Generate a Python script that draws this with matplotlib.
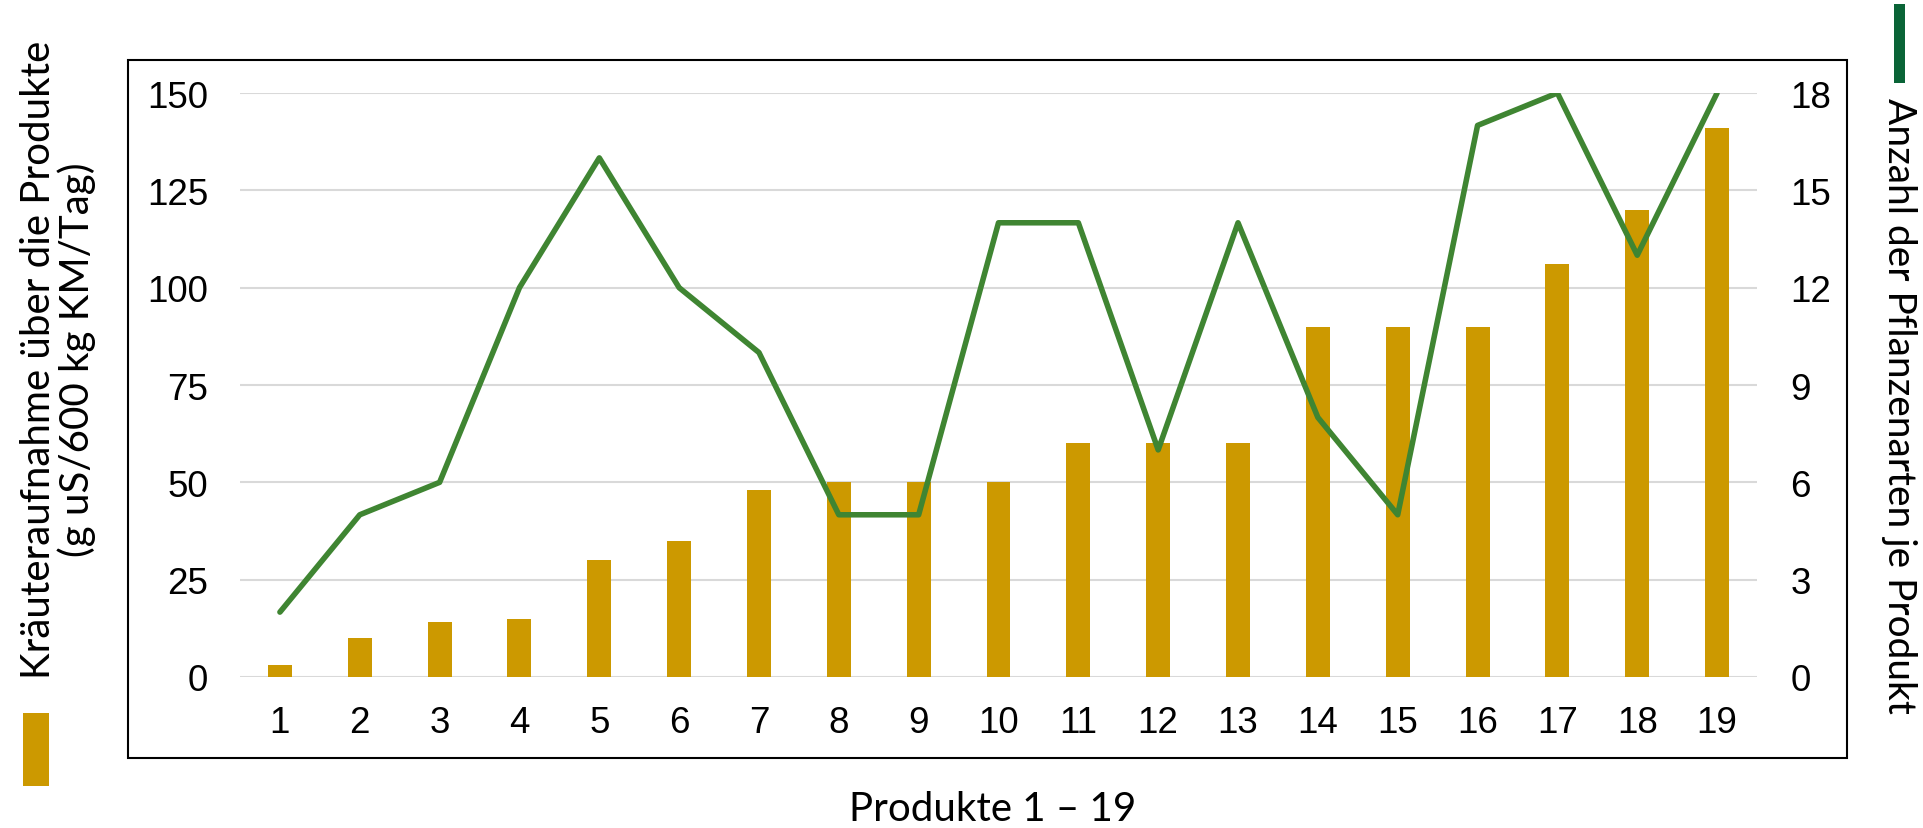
import numpy as np
import matplotlib.pyplot as plt
from matplotlib.patches import Rectangle

# Produkte 1-19
produkte = list(range(1, 20))
kraeuter = [3, 10, 14, 15, 30, 35, 48, 50, 50, 50, 60, 60, 60, 90, 90, 90, 106, 120, 141]
arten = [2, 5, 6, 12, 16, 12, 10, 5, 5, 14, 14, 7, 14, 8, 5, 17, 18, 13, 18]

left_ticks = [0, 25, 50, 75, 100, 125, 150]
right_ticks = [0, 3, 6, 9, 12, 15, 18]

gold = '#CC9900'
green = '#3F8532'
W, H = 1924, 829

fig = plt.figure(figsize=(W / 100, H / 100), dpi=100)

# chart area frame
fig.add_artist(Rectangle((128 / W, 1 - 759 / H), (1847 - 128) / W, (759 - 61) / H,
                         transform=fig.transFigure, fill=False, ec='black', lw=1.5))

ax = fig.add_axes([240 / W, 1 - 678 / H, 1517 / W, 584 / H])
ax.bar(produkte, kraeuter, width=0.3, color=gold, zorder=2)
ax.set_xlim(0.5, 19.5)
ax.set_ylim(0, 150)
ax.set_yticks(left_ticks)
ax.set_xticks(produkte)
ax.grid(axis='y', color='#D9D9D9', lw=1.5)
ax.set_axisbelow(True)
for s in ax.spines.values():
    s.set_visible(False)
ax.tick_params(axis='both', length=0, labelsize=26.5)
ax.tick_params(axis='x', pad=20)
ax.tick_params(axis='y', pad=23)
for lab in ax.get_xticklabels() + ax.get_yticklabels():
    lab.set_family('Liberation Sans')

ax2 = ax.twinx()
ax2.plot(produkte, arten, color=green, lw=4.0, solid_capstyle='round', solid_joinstyle='round')
ax2.set_ylim(0, 18)
ax2.set_yticks(right_ticks)
for s in ax2.spines.values():
    s.set_visible(False)
ax2.tick_params(axis='y', length=0, labelsize=26.5, pad=24)
for lab in ax2.get_yticklabels():
    lab.set_family('Liberation Sans')

fig.text(993 / W, 1 - 810 / H, 'Produkte 1 – 19', ha='center', va='center',
         family='Lato', fontsize=29)
fig.text(58 / W, 1 - 360 / H, 'Kräuteraufnahme über die Produkte\n(g uS/600 kg KM/Tag)',
         rotation=90, ha='center', va='center', multialignment='center',
         linespacing=1.0, family='Lato', fontsize=29)
fig.text(1899 / W, 1 - 406 / H, 'Anzahl der Pflanzenarten je Produkt',
         rotation=-90, ha='center', va='center', family='Lato', fontsize=28)

# legend keys next to axis titles
fig.add_artist(Rectangle((23 / W, 1 - 787 / H), 26 / W, 73 / H, transform=fig.transFigure,
                         color=gold, lw=0))
fig.add_artist(Rectangle((1894 / W, 1 - 84 / H), 11 / W, 79 / H, transform=fig.transFigure,
                         color='#0A6437', lw=0))

fig.savefig('out.png', dpi=100)
